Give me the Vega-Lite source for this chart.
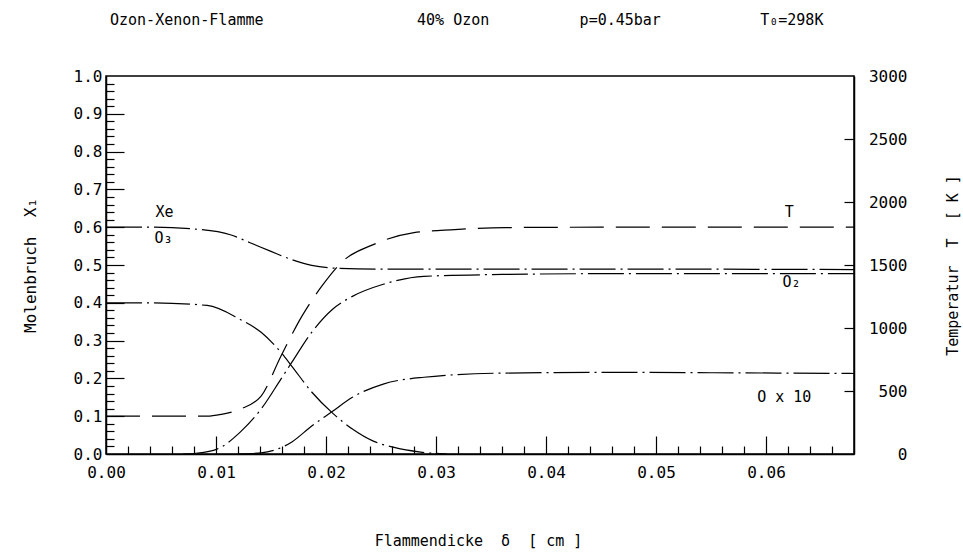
{
  "$schema": "https://vega.github.io/schema/vega-lite/v6.json",
  "width": 748,
  "height": 378,
  "autosize": {"type": "none"},
  "padding": {"left": 106, "top": 76, "right": 109, "bottom": 101},
  "background": "white",
  "config": {
    "font": "DejaVu Sans Mono",
    "view": {"stroke": "black", "strokeWidth": 1.5},
    "axis": {
      "grid": false,
      "domainColor": "black",
      "domainWidth": 1.5,
      "tickColor": "black",
      "tickWidth": 1.2,
      "labelColor": "black",
      "labelFont": "DejaVu Sans Mono",
      "labelFontSize": 16,
      "labelOverlap": false,
      "labelFlush": false,
      "titleColor": "black",
      "titleFont": "DejaVu Sans Mono",
      "titleFontSize": 15,
      "titleFontWeight": "normal"
    }
  },
  "title": {
    "text": "Ozon-Xenon-Flamme\u00a0\u00a0\u00a0\u00a0\u00a0\u00a0\u00a0\u00a0\u00a0\u00a0\u00a0\u00a0\u00a0\u00a0\u00a0\u00a0\u00a040%\u00a0Ozon\u00a0\u00a0\u00a0\u00a0\u00a0\u00a0\u00a0\u00a0\u00a0\u00a0p=0.45bar\u00a0\u00a0\u00a0\u00a0\u00a0\u00a0\u00a0\u00a0\u00a0\u00a0\u00a0T₀=298K",
    "anchor": "start",
    "frame": "group",
    "dx": 4,
    "offset": 40,
    "font": "DejaVu Sans Mono",
    "fontSize": 15,
    "fontWeight": "normal",
    "color": "black"
  },
  "layer": [
    {
      "layer": [
        {
          "data": {
            "values": [
              {"s": "Xe", "x": 0, "v": 0.6},
              {"s": "Xe", "x": 0.004, "v": 0.6},
              {"s": "Xe", "x": 0.0085, "v": 0.594},
              {"s": "Xe", "x": 0.0113, "v": 0.58},
              {"s": "Xe", "x": 0.0131, "v": 0.559},
              {"s": "Xe", "x": 0.015, "v": 0.536},
              {"s": "Xe", "x": 0.0169, "v": 0.514},
              {"s": "Xe", "x": 0.0187, "v": 0.499},
              {"s": "Xe", "x": 0.0212, "v": 0.491},
              {"s": "Xe", "x": 0.025, "v": 0.489},
              {"s": "Xe", "x": 0.035, "v": 0.489},
              {"s": "Xe", "x": 0.05, "v": 0.489},
              {"s": "Xe", "x": 0.068, "v": 0.488},
              {"s": "O3", "x": 0, "v": 0.4},
              {"s": "O3", "x": 0.004, "v": 0.4},
              {"s": "O3", "x": 0.0092, "v": 0.393},
              {"s": "O3", "x": 0.0122, "v": 0.356},
              {"s": "O3", "x": 0.0141, "v": 0.322},
              {"s": "O3", "x": 0.0159, "v": 0.269},
              {"s": "O3", "x": 0.0169, "v": 0.232},
              {"s": "O3", "x": 0.0187, "v": 0.164},
              {"s": "O3", "x": 0.0206, "v": 0.108},
              {"s": "O3", "x": 0.0224, "v": 0.066},
              {"s": "O3", "x": 0.0243, "v": 0.034},
              {"s": "O3", "x": 0.0261, "v": 0.018},
              {"s": "O3", "x": 0.0286, "v": 0.005},
              {"s": "O3", "x": 0.031, "v": 0.0},
              {"s": "O2", "x": 0.007, "v": 0.0},
              {"s": "O2", "x": 0.0082, "v": 0.002},
              {"s": "O2", "x": 0.0101, "v": 0.013},
              {"s": "O2", "x": 0.0122, "v": 0.058},
              {"s": "O2", "x": 0.0141, "v": 0.119},
              {"s": "O2", "x": 0.0159, "v": 0.198},
              {"s": "O2", "x": 0.0169, "v": 0.243},
              {"s": "O2", "x": 0.0187, "v": 0.322},
              {"s": "O2", "x": 0.0206, "v": 0.383},
              {"s": "O2", "x": 0.0224, "v": 0.417},
              {"s": "O2", "x": 0.0252, "v": 0.449},
              {"s": "O2", "x": 0.0289, "v": 0.47},
              {"s": "O2", "x": 0.036, "v": 0.475},
              {"s": "O2", "x": 0.045, "v": 0.477},
              {"s": "O2", "x": 0.068, "v": 0.477},
              {"s": "Ox10", "x": 0.012, "v": 0.0},
              {"s": "Ox10", "x": 0.0141, "v": 0.003},
              {"s": "Ox10", "x": 0.0169, "v": 0.032},
              {"s": "Ox10", "x": 0.0187, "v": 0.074},
              {"s": "Ox10", "x": 0.0206, "v": 0.113},
              {"s": "Ox10", "x": 0.0224, "v": 0.15},
              {"s": "Ox10", "x": 0.0252, "v": 0.185},
              {"s": "Ox10", "x": 0.0289, "v": 0.203},
              {"s": "Ox10", "x": 0.036, "v": 0.214},
              {"s": "Ox10", "x": 0.045, "v": 0.216},
              {"s": "Ox10", "x": 0.055, "v": 0.215},
              {"s": "Ox10", "x": 0.068, "v": 0.213}
            ]
          },
          "mark": {"type": "line", "color": "black", "strokeWidth": 1.2, "strokeDash": [36, 5, 2, 5], "interpolate": "monotone"},
          "encoding": {
            "x": {
              "field": "x",
              "type": "quantitative",
              "scale": {"domain": [0, 0.068], "nice": false, "zero": false},
              "axis": {
                "orient": "bottom",
                "values": [0, 0.01, 0.02, 0.03, 0.04, 0.05, 0.06],
                "ticks": false,
                "tickSize": 0,
                "format": ".2f",
                "labelPadding": 10,
                "title": "Flammendicke\u00a0\u00a0δ\u00a0\u00a0[\u00a0cm\u00a0]",
                "titleX": 372,
                "titleY": 86,
                "titleBaseline": "middle",
                "titleAlign": "center"
              }
            },
            "y": {
              "field": "v",
              "type": "quantitative",
              "scale": {"domain": [0, 1], "nice": false},
              "axis": {
                "orient": "left",
                "values": [0, 0.1, 0.2, 0.3, 0.4, 0.5, 0.6, 0.7, 0.8, 0.9, 1.0],
                "ticks": false,
                "tickSize": 0,
                "format": ".1f",
                "labelPadding": 4,
                "title": "Molenbruch\u00a0\u00a0X₁",
                "titleFontSize": 16,
                "titleX": -76,
                "titleY": 189,
                "titleAngle": -90,
                "titleAlign": "center",
                "titleBaseline": "middle"
              }
            },
            "detail": {"field": "s"}
          }
        },
        {
          "data": {
            "values": [
              {"x": 0.0045, "v": 0.64, "label": "Xe"},
              {"x": 0.0044, "v": 0.572, "label": "O₃"},
              {"x": 0.0615, "v": 0.455, "label": "O₂"},
              {"x": 0.0592, "v": 0.151, "label": "O x 10"}
            ]
          },
          "mark": {"type": "text", "align": "left", "baseline": "middle", "font": "DejaVu Sans Mono", "fontSize": 15, "color": "black"},
          "encoding": {
            "x": {
              "field": "x",
              "type": "quantitative",
              "scale": {"domain": [0, 0.068], "nice": false, "zero": false},
              "axis": {
                "orient": "top",
                "offset": -378,
                "domain": false,
                "labels": false,
                "title": null,
                "values": [0.002, 0.004, 0.006, 0.008, 0.01, 0.012, 0.014, 0.016, 0.018, 0.02, 0.022, 0.024, 0.026, 0.028, 0.03, 0.032, 0.034, 0.036, 0.038, 0.04, 0.042, 0.044, 0.046, 0.048, 0.05, 0.052, 0.054, 0.056, 0.058, 0.06, 0.062, 0.064, 0.066],
                "tickSize": {"condition": {"test": "round(datum.value*500)%5==0", "value": 18}, "value": 8}
              }
            },
            "y": {
              "field": "v",
              "type": "quantitative",
              "scale": {"domain": [0, 1], "nice": false},
              "axis": {
                "orient": "right",
                "offset": -748,
                "domain": false,
                "labels": false,
                "title": null,
                "values": [0.02, 0.04, 0.06, 0.08, 0.1, 0.12, 0.14, 0.16, 0.18, 0.2, 0.22, 0.24, 0.26, 0.28, 0.3, 0.32, 0.34, 0.36, 0.38, 0.4, 0.42, 0.44, 0.46, 0.48, 0.5, 0.52, 0.54, 0.56, 0.58, 0.6, 0.62, 0.64, 0.66, 0.68, 0.7, 0.72, 0.74, 0.76, 0.78, 0.8, 0.82, 0.84, 0.86, 0.88, 0.9, 0.92, 0.94, 0.96, 0.98],
                "tickSize": {"condition": {"test": "round(datum.value*50)%5==0", "value": 18}, "value": 8}
              }
            },
            "text": {"field": "label"}
          }
        }
      ],
      "resolve": {"axis": {"x": "independent", "y": "independent"}}
    },
    {
      "layer": [
        {
          "data": {
            "values": [
              {"x": 0, "T": 300},
              {"x": 0.0092, "T": 300},
              {"x": 0.0105, "T": 315},
              {"x": 0.0122, "T": 356},
              {"x": 0.0141, "T": 459},
              {"x": 0.0159, "T": 776},
              {"x": 0.0178, "T": 1092},
              {"x": 0.0196, "T": 1330},
              {"x": 0.0215, "T": 1528},
              {"x": 0.0243, "T": 1662},
              {"x": 0.028, "T": 1757},
              {"x": 0.0317, "T": 1781},
              {"x": 0.0363, "T": 1797},
              {"x": 0.045, "T": 1800},
              {"x": 0.068, "T": 1800}
            ]
          },
          "mark": {"type": "line", "color": "black", "strokeWidth": 1.2, "strokeDash": [34, 12], "interpolate": "monotone"},
          "encoding": {
            "x": {"field": "x", "type": "quantitative", "scale": {"domain": [0, 0.068], "nice": false, "zero": false}, "axis": null},
            "y": {
              "field": "T",
              "type": "quantitative",
              "scale": {"domain": [0, 3000], "nice": false},
              "axis": {
                "orient": "right",
                "values": [0, 500, 1000, 1500, 2000, 2500, 3000],
                "format": "d",
                "ticks": false,
                "tickSize": 0,
                "labelAlign": "right",
                "labelPadding": 53,
                "title": "Temperatur\u00a0\u00a0T\u00a0\u00a0[\u00a0K\u00a0]",
                "titleX": 98,
                "titleY": 189,
                "titleAngle": -90,
                "titleAlign": "center",
                "titleBaseline": "middle"
              }
            }
          }
        },
        {
          "data": {"values": [{"x": 0.0617, "T": 1921, "label": "T"}]},
          "mark": {"type": "text", "align": "left", "baseline": "middle", "font": "DejaVu Sans Mono", "fontSize": 15, "color": "black"},
          "encoding": {
            "x": {"field": "x", "type": "quantitative", "scale": {"domain": [0, 0.068], "nice": false, "zero": false}, "axis": null},
            "y": {
              "field": "T",
              "type": "quantitative",
              "scale": {"domain": [0, 3000], "nice": false},
              "axis": {
                "orient": "left",
                "offset": -748,
                "domain": false,
                "labels": false,
                "title": null,
                "values": [500, 1000, 1500, 2000, 2500],
                "tickSize": 10
              }
            },
            "text": {"field": "label"}
          }
        }
      ],
      "resolve": {"axis": {"y": "independent"}}
    }
  ],
  "resolve": {"scale": {"y": "independent"}, "axis": {"x": "independent"}}
}
